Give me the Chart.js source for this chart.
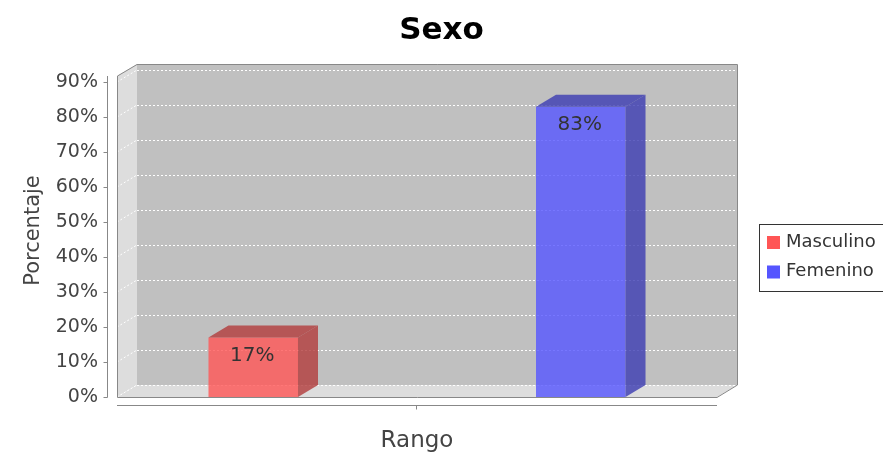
<!DOCTYPE html>
<html>
<head>
<meta charset="utf-8">
<script src="https://cdn.jsdelivr.net/npm/chart.js@4/dist/chart.umd.min.js"></script>
<style>
  body { margin: 0; background: #fff; }
  #wrap { width: 883px; height: 461px; }
</style>
</head>
<body>
<div id="wrap"><canvas id="sexoChart" width="883" height="461"></canvas></div>
<script>
// datos
const categorias = [''];
const series = ['Masculino', 'Femenino'];
const masculino = [17];
const femenino = [83];
const yTicks = [0, 10, 20, 30, 40, 50, 60, 70, 80, 90];

// profundidad 3D (px)
const DX = 20, DY = 12;

Chart.defaults.font.family = "'DejaVu Sans', sans-serif";
Chart.defaults.color = '#444';

function poly(ctx, pts) {
  ctx.beginPath();
  ctx.moveTo(pts[0][0], pts[0][1]);
  for (let i = 1; i < pts.length; i++) ctx.lineTo(pts[i][0], pts[i][1]);
  ctx.closePath();
}

// paredes, piso y rejilla
const caja3d = {
  id: 'caja3d',
  beforeDatasetsDraw(chart) {
    const {ctx, chartArea: a, scales: {x, y}} = chart;
    const L = a.left, R = a.right, B = a.bottom, T = a.top;
    ctx.save();
    // pared del fondo
    ctx.fillStyle = '#c0c0c0';
    ctx.fillRect(L + DX, T, R - L, B - DY - T);
    // pared izquierda y piso
    ctx.fillStyle = '#dddddd';
    poly(ctx, [[L, B], [L, T + DY], [L + DX, T], [L + DX, B - DY]]);
    ctx.fill();
    poly(ctx, [[L, B], [L + DX, B - DY], [R + DX, B - DY], [R, B]]);
    ctx.fill();

    // lineas de la rejilla
    ctx.strokeStyle = '#ffffff';
    ctx.lineWidth = 1;
    ctx.setLineDash([2, 2]);
    y.ticks.forEach(t => {
      const py = Math.round(y.getPixelForValue(t.value));
      ctx.beginPath();
      ctx.moveTo(L + DX, py - DY + 0.5);
      ctx.lineTo(R + DX, py - DY + 0.5);
      ctx.stroke();
      ctx.beginPath();
      ctx.moveTo(L, py);
      ctx.lineTo(L + DX, py - DY);
      ctx.stroke();
    });
    ctx.setLineDash([]);

    // contorno
    ctx.strokeStyle = '#888888';
    poly(ctx, [[L + 0.5, B + 0.5], [L + 0.5, T + DY], [L + DX, T + 0.5], [R + DX + 0.5, T + 0.5],
               [R + DX + 0.5, B - DY], [R, B + 0.5]]);
    ctx.stroke();

    // eje Y
    const ax = L - 9.5;
    ctx.beginPath();
    ctx.moveTo(ax, T + DY);
    ctx.lineTo(ax, B + 0.5);
    y.ticks.forEach(t => {
      const py = Math.round(y.getPixelForValue(t.value)) + 0.5;
      ctx.moveTo(ax - 4, py);
      ctx.lineTo(ax, py);
    });
    ctx.stroke();

    // eje X (categorias)
    const ay = B + 8.5;
    ctx.beginPath();
    ctx.moveTo(L, ay);
    ctx.lineTo(R, ay);
    categorias.forEach((c, i) => {
      const px = Math.round(x.getPixelForValue(i)) - 0.5;
      ctx.moveTo(px, ay);
      ctx.lineTo(px, ay + 4);
    });
    ctx.stroke();
    ctx.restore();
  },

  // caras superior y lateral de las barras + etiquetas
  afterDatasetsDraw(chart) {
    const {ctx} = chart;
    ctx.save();
    chart.data.datasets.forEach((ds, i) => {
      const meta = chart.getDatasetMeta(i);
      meta.data.forEach((bar, j) => {
        const {x, y, base, width} = bar.getProps(['x', 'y', 'base', 'width'], true);
        const x1 = x - width / 2, x2 = x + width / 2;
        ctx.fillStyle = ds.sideColor;
        poly(ctx, [[x1, y], [x1 + DX, y - DY], [x2 + DX, y - DY], [x2, y]]);
        ctx.fill();
        poly(ctx, [[x2, y], [x2 + DX, y - DY], [x2 + DX, base - DY], [x2, base]]);
        ctx.fill();

        ctx.fillStyle = '#333';
        ctx.font = "20px 'DejaVu Sans'";
        ctx.textAlign = 'center';
        ctx.textBaseline = 'middle';
        ctx.fillText(ds.data[j] + '%', x - 1, y + 18);
      });
    });
    ctx.restore();
  },

  // leyenda
  afterDraw(chart) {
    const {ctx} = chart;
    ctx.save();
    ctx.strokeStyle = '#333';
    ctx.lineWidth = 1;
    ctx.strokeRect(759.5, 224.5, 140, 67);
    ctx.font = "18px 'DejaVu Sans'";
    ctx.textBaseline = 'middle';
    ctx.textAlign = 'left';
    chart.data.datasets.forEach((ds, i) => {
      const cy = 242 + i * 29.5;
      ctx.fillStyle = ds.legendColor;
      ctx.fillRect(767, cy - 6, 13, 13);
      ctx.fillStyle = '#333';
      ctx.fillText(ds.label, 786, cy);
    });
    ctx.restore();
  }
};

const sexoChart = new Chart(document.getElementById('sexoChart'), {
  type: 'bar',
  data: {
    labels: categorias,
    datasets: [
      { label: series[0], data: masculino,
        backgroundColor: 'rgba(255, 85, 85, 0.8)',
        sideColor: 'rgba(178, 59, 59, 0.8)',
        legendColor: '#ff5555' },
      { label: series[1], data: femenino,
        backgroundColor: 'rgba(85, 85, 255, 0.8)',
        sideColor: 'rgba(59, 59, 178, 0.8)',
        legendColor: '#5555ff' }
    ]
  },
  options: {
    responsive: false,
    animation: false,
    devicePixelRatio: 1,
    categoryPercentage: 1.0917,
    barPercentage: 0.2733,
    layout: { padding: { left: 0, right: 0, top: 0, bottom: 2 } },
    plugins: {
      legend: { display: false },
      tooltip: { enabled: false },
      title: {
        display: true,
        text: 'Sexo',
        color: '#000',
        font: { size: 31, weight: 'bold' },
        padding: { top: 12, bottom: 14.8 }
      }
    },
    scales: {
      x: {
        grid: { display: false, drawTicks: false },
        border: { display: false },
        ticks: { display: false },
        title: { display: true, text: 'Rango', font: { size: 23 }, padding: { top: 4, bottom: 4 } },
        afterFit(scale) { scale.height = 62; }
      },
      y: {
        min: 0,
        max: 95.2,
        grid: { display: false, drawTicks: false },
        border: { display: false },
        ticks: { padding: 19, font: { size: 19 }, includeBounds: false,
                 callback: v => v + '%' },
        afterBuildTicks(scale) { scale.ticks = yTicks.map(v => ({ value: v })); },
        title: { display: true, text: 'Porcentaje', font: { size: 21 }, padding: { top: 21, bottom: 4 } },
        afterFit(scale) { scale.width = 117; }
      },
      // espacio a la derecha para la leyenda
      derecha: {
        type: 'linear',
        position: 'right',
        grid: { display: false, drawTicks: false },
        border: { display: false },
        ticks: { display: false },
        afterFit(scale) { scale.width = 166; }
      }
    }
  },
  plugins: [caja3d]
});
</script>
</body>
</html>
